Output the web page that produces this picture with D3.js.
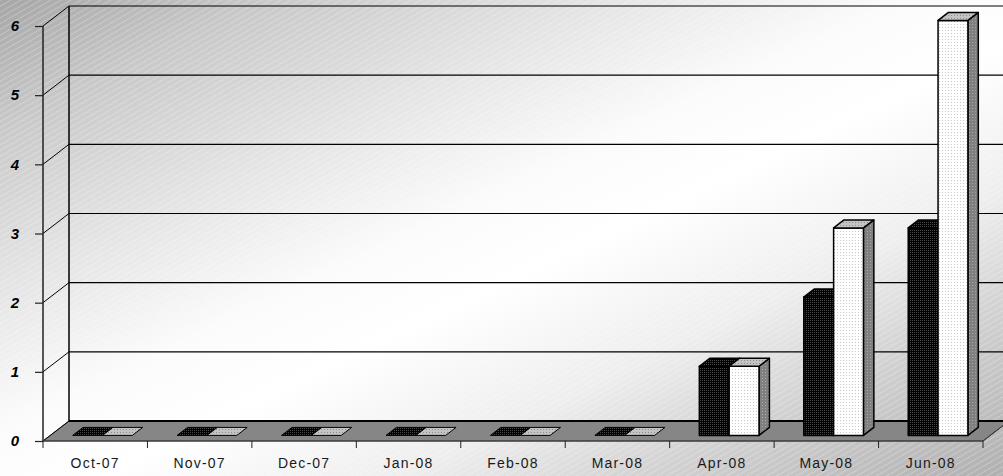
<!DOCTYPE html>
<html>
<head>
<meta charset="utf-8">
<script src="https://cdn.jsdelivr.net/npm/d3@7/dist/d3.min.js"></script>
<style>
  html, body { margin: 0; padding: 0; background: #fff; }
  svg { display: block; }
</style>
</head>
<body>
<svg id="chart" width="1003" height="476"></svg>
<script>
// Monthly counts, two series drawn as 3D columns
const months = ["Oct-07", "Nov-07", "Dec-07", "Jan-08", "Feb-08", "Mar-08", "Apr-08", "May-08", "Jun-08"];
const seriesA = [0, 0, 0, 0, 0, 0, 1, 2, 3];
const seriesB = [0, 0, 0, 0, 0, 0, 1, 3, 6];
const yTicks = [0, 1, 2, 3, 4, 5, 6];

(function () {
const W = 1003, H = 476;
const svg = d3.select("#chart");
const defs = svg.append("defs");

// Background: diagonal grey-white-grey gradient with faint hatching
const bg = defs.append("linearGradient").attr("id", "bgGrad")
  .attr("x1", 0).attr("y1", 0).attr("x2", 1).attr("y2", 1);
[[0, "#a6a6a6"], [0.13, "#c8c8c8"], [0.3, "#e4e4e4"], [0.45, "#fbfbfb"],
 [0.55, "#ffffff"], [0.7, "#eeeeee"], [0.82, "#d2d2d2"], [1, "#b0b0b0"]]
  .forEach(([o, c]) => bg.append("stop").attr("offset", o).attr("stop-color", c));

const hatch = defs.append("pattern").attr("id", "hatch")
  .attr("patternUnits", "userSpaceOnUse").attr("width", 5).attr("height", 5)
  .attr("patternTransform", "rotate(-30)");
hatch.append("line").attr("x1", 0).attr("y1", 0.5).attr("x2", 5).attr("y2", 0.5)
  .attr("stroke", "#ffffff").attr("stroke-opacity", 0.25).attr("stroke-width", 1);

svg.append("rect").attr("width", W).attr("height", H).attr("fill", "url(#bgGrad)");
svg.append("rect").attr("width", W).attr("height", H).attr("fill", "url(#hatch)");

// Dotted fills for the column faces
function dotPattern(id, base, dot, step) {
  const p = defs.append("pattern").attr("id", id)
    .attr("patternUnits", "userSpaceOnUse").attr("width", step).attr("height", step);
  p.append("rect").attr("width", step).attr("height", step).attr("fill", base);
  p.append("rect").attr("x", 0).attr("y", 0).attr("width", 1).attr("height", 1).attr("fill", dot);
  return "url(#" + id + ")";
}
const fillA = { front: dotPattern("aFront", "#000000", "#4a4a4a", 2),
                top: dotPattern("aTop", "#000000", "#4a4a4a", 2),
                side: dotPattern("aSide", "#000000", "#4a4a4a", 2) };
const fillB = { front: dotPattern("bFront", "#ffffff", "#c8c8c8", 3),
                top: dotPattern("bTop", "#c4c4c4", "#8c8c8c", 3),
                side: dotPattern("bSide", "#808080", "#a8a8a8", 3) };

// Plot geometry: front frame plus an oblique depth offset
const plotL = 43, plotR = 983, plotB = 441, plotT = 26;
const depthX = 26, depthY = -20;

const x = d3.scaleBand().domain(months).range([plotL, plotR]).paddingInner(0).paddingOuter(0);
const y = d3.scaleLinear().domain([0, 6]).range([plotB, plotT]);

const g = svg.append("g");

// Floor
const floor = [[plotL, plotB], [plotR, plotB], [plotR + depthX, plotB + depthY], [plotL + depthX, plotB + depthY]];
g.append("path").attr("d", d3.line()(floor) + "Z")
  .attr("fill", "#868686").attr("stroke", "#4a4a4a").attr("stroke-width", 1);

// Walls: gridlines on the back and side walls
yTicks.forEach(v => {
  const yy = y(v);
  g.append("line")
    .attr("x1", plotL + depthX).attr("y1", yy + depthY)
    .attr("x2", W + 10).attr("y2", yy + depthY)
    .attr("stroke", "#000").attr("stroke-width", v === 0 ? 2 : 1.2);
  g.append("line")
    .attr("x1", plotL).attr("y1", yy)
    .attr("x2", plotL + depthX).attr("y2", yy + depthY)
    .attr("stroke", "#000").attr("stroke-width", 1);
});
g.append("line")
  .attr("x1", plotL + depthX).attr("y1", y(6) + depthY)
  .attr("x2", plotL + depthX).attr("y2", y(0) + depthY)
  .attr("stroke", "#000").attr("stroke-width", 1.5);

// Columns
const barW = x.bandwidth() / 3.5;
const gapW = barW * 1.5;
const d0 = 0.28, d1 = 0.68;            // column depth as fraction of floor depth
const bdx = depthX * (d1 - d0), bdy = depthY * (d1 - d0);

function column(cx0, v, fill) {
  const ox = depthX * d0, oy = depthY * d0;
  const xl = cx0 + ox, xr = xl + barW;
  const yb = y(0) + oy, yt = y(v) + oy;
  const grp = g.append("g").attr("stroke", "#000").attr("stroke-width", 1.5)
    .attr("stroke-linejoin", "round");
  if (v > 0) {
    grp.append("path").attr("fill", fill.side)
      .attr("d", d3.line()([[xr, yb], [xr + bdx, yb + bdy], [xr + bdx, yt + bdy], [xr, yt]]) + "Z");
    grp.append("path").attr("fill", fill.front)
      .attr("d", d3.line()([[xl, yb], [xr, yb], [xr, yt], [xl, yt]]) + "Z");
  }
  grp.append("path").attr("fill", fill.top)
    .attr("stroke-width", v > 0 ? 1.5 : 1)
    .attr("d", d3.line()([[xl, yt], [xr, yt], [xr + bdx, yt + bdy], [xl + bdx, yt + bdy]]) + "Z");
}

months.forEach((m, i) => {
  const x0 = x(m) + gapW / 2;
  column(x0, seriesA[i], fillA);
  column(x0 + barW, seriesB[i], fillB);
});

// Front axes
g.append("line").attr("x1", plotL).attr("y1", plotT).attr("x2", plotL).attr("y2", plotB)
  .attr("stroke", "#222").attr("stroke-width", 1.5);
g.append("line").attr("x1", plotL).attr("y1", plotB).attr("x2", plotR).attr("y2", plotB)
  .attr("stroke", "#333").attr("stroke-width", 1);
g.append("line").attr("x1", plotR).attr("y1", plotB).attr("x2", plotR + depthX).attr("y2", plotB + depthY)
  .attr("stroke", "#333").attr("stroke-width", 1);

const yAxis = d3.axisLeft(y).tickValues(yTicks).tickSize(8).tickPadding(16).tickFormat(d3.format("d"));
const ya = svg.append("g").attr("transform", `translate(${plotL},0)`).call(yAxis);
ya.select(".domain").remove();
ya.selectAll(".tick line").attr("stroke", "#222").attr("stroke-width", 1.2);
ya.selectAll(".tick text")
  .attr("font-family", "Liberation Sans, Arial, sans-serif")
  .attr("font-size", 15).attr("font-weight", "bold").attr("font-style", "italic")
  .attr("fill", "#000");

const boundaries = months.map(m => x(m)).concat([plotR]);
svg.append("g").selectAll("line").data(boundaries).join("line")
  .attr("x1", d => d).attr("x2", d => d).attr("y1", plotB).attr("y2", plotB + 7)
  .attr("stroke", "#222").attr("stroke-width", 1);

svg.append("g").selectAll("text").data(months).join("text")
  .attr("x", d => x(d) + x.bandwidth() / 2)
  .attr("y", 468)
  .attr("text-anchor", "middle")
  .attr("font-family", "Liberation Sans, Arial, sans-serif")
  .attr("font-size", 14)
  .attr("font-weight", "normal")
  .attr("letter-spacing", "1.2px")
  .attr("fill", "#1a1a1a")
  .text(d => d);
})();
</script>
</body>
</html>
